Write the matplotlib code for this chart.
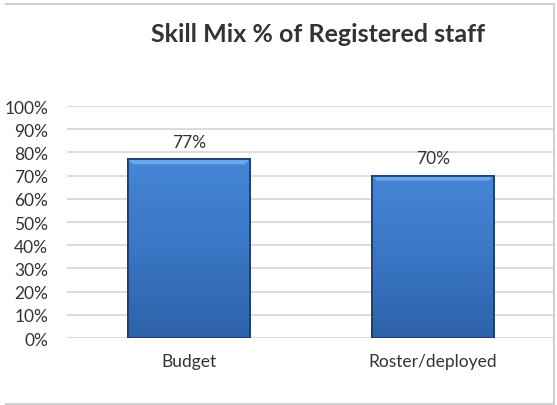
import matplotlib
matplotlib.use("Agg")
import matplotlib.pyplot as plt
import numpy as np
from matplotlib.patches import Polygon
from matplotlib.colors import LinearSegmentedColormap
from matplotlib.lines import Line2D

categories = ["Budget", "Roster/deployed"]
values = [77, 70]
title = "Skill Mix % of Registered staff"
yticks = list(range(0, 101, 10))

W, H = 557, 406
fig = plt.figure(figsize=(W / 100, H / 100), dpi=100)
plt.rcParams['font.family'] = ['Lato', 'DejaVu Sans']

left, right = 67 / W, 555 / W
bottom, top = 1 - 339 / H, 1 - 107 / H
ax = fig.add_axes([left, bottom, right - left, top - bottom])
ax.set_xlim(-0.5, len(categories) - 0.5)
ax.set_ylim(0, 100)

txt = "#333333"
for s in ax.spines.values():
    s.set_visible(False)
ax.set_yticks(yticks)
ax.set_yticklabels([f"{t}%" for t in yticks], fontsize=12.5, color=txt)
ax.tick_params(axis="y", length=0, pad=13.5)
ax.set_xticks(range(len(categories)))
ax.set_xticklabels(categories, fontsize=12.5, color=txt)
ax.tick_params(axis="x", length=0, pad=11)
ax.yaxis.grid(True, color="#D9D9D9", linewidth=1.3)
ax.set_axisbelow(True)

bars = ax.bar(range(len(categories)), values, width=0.5,
              color="#3E7BC8", edgecolor="#1B3A6A", linewidth=1.2, zorder=2)

cmap = LinearSegmentedColormap.from_list(
    "barfill", ["#2D62AA", "#3A76C4", "#4586D6"])
grad = np.linspace(0, 1, 256).reshape(-1, 1)
bev_y = 5 / 232 * 100
bev_x = 5 / 244
for b, v in zip(bars, values):
    x0, w = b.get_x(), b.get_width()
    im = ax.imshow(grad, extent=[x0, x0 + w, 0, v], origin="lower",
                   cmap=cmap, aspect="auto", zorder=2.1)
    im.set_clip_path(b)
    bevel = Polygon([[x0, v], [x0 + w, v], [x0 + w - bev_x, v - bev_y],
                     [x0 + bev_x, v - bev_y]], closed=True,
                    facecolor="#6AA6E8", edgecolor="none", zorder=2.2)
    ax.add_patch(bevel)
    outline = Polygon([[x0, 0], [x0, v], [x0 + w, v], [x0 + w, 0]], closed=True,
                      facecolor="none", edgecolor="#1B3A6A", linewidth=1.2,
                      zorder=2.3)
    ax.add_patch(outline)
    ax.annotate(f"{v}%", (x0 + w / 2, v), xytext=(0, 7),
                textcoords="offset points", ha="center", va="bottom",
                fontsize=12.5, color=txt)

fig.text(318 / W, 1 - 35 / H, title, ha="center", va="center",
         fontsize=18, fontweight="bold", color=txt)

# chart frame
fc = "#D0D0D0"
fig.add_artist(Line2D([6 / W, 554 / W], [1 - 5 / H, 1 - 5 / H], color=fc, lw=1.5))
fig.add_artist(Line2D([6 / W, 554 / W], [1 - 405 / H, 1 - 405 / H], color=fc, lw=1.5))
fig.add_artist(Line2D([554 / W, 554 / W], [1 - 5 / H, 1 - 405 / H], color=fc, lw=1.5))

fig.savefig("out.png", dpi=100)
